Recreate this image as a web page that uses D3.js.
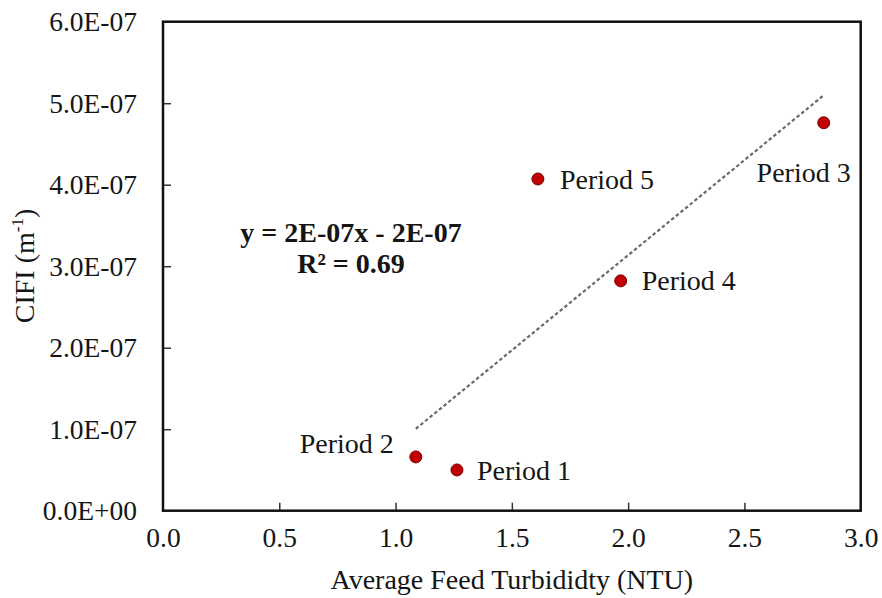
<!DOCTYPE html>
<html><head><meta charset="utf-8">
<script src="https://cdn.jsdelivr.net/npm/d3@7"></script>
<style>
html,body{margin:0;padding:0;background:#fff;}
text{font-family:"Liberation Serif","Times New Roman",serif;fill:#151515;}
</style></head>
<body>
<svg id="chart" width="882" height="598"></svg>
<script>
// ---- data ----
const periods = ["Period 1","Period 2","Period 3","Period 4","Period 5"];
const turbidity = [1.264, 1.087, 2.841, 1.968, 1.612];
const cifi = [5.0e-8, 6.6e-8, 4.76e-7, 2.82e-7, 4.07e-7];
const xTicks = [0, 0.5, 1.0, 1.5, 2.0, 2.5, 3.0];
const yTicks = [0, 1e-7, 2e-7, 3e-7, 4e-7, 5e-7, 6e-7];
const yTickLabels = ["0.0E+00","1.0E-07","2.0E-07","3.0E-07","4.0E-07","5.0E-07","6.0E-07"];
const equationText = "y = 2E-07x - 2E-07";
const r2Text = "R² = 0.69";

// ---- layout ----
const W = 882, H = 598;
const m = {left:163, top:21.7, right:W-860.7, bottom:H-510.7};
const svg = d3.select("#chart");
const x = d3.scaleLinear().domain([0,3]).range([m.left, W-m.right]);
const y = d3.scaleLinear().domain([0,6e-7]).range([H-m.bottom, m.top]);

// label placement (dx, dy, anchor)
const labelPos = {
  "Period 1": [20, 10, "start"],
  "Period 2": [-22, -4, "end"],
  "Period 3": [27, 59, "end"],
  "Period 4": [21, 9, "start"],
  "Period 5": [22, 10, "start"]
};

// axes (ticks inside)
const xAxis = d3.axisBottom(x).tickValues(xTicks).tickSizeInner(-8).tickSizeOuter(0)
  .tickFormat(d3.format(".1f")).tickPadding(17);
const yAxis = d3.axisLeft(y).tickValues(yTicks).tickSizeInner(-8).tickSizeOuter(0)
  .tickFormat((d,i)=>yTickLabels[i]).tickPadding(26);

const gx = svg.append("g").attr("transform",`translate(0,${H-m.bottom})`).call(xAxis);
const gy = svg.append("g").attr("transform",`translate(${m.left},0)`).call(yAxis);
[gx,gy].forEach(g=>{
  g.select(".domain").remove();
  g.selectAll(".tick line").attr("stroke","#333").attr("stroke-width",1.5);
  g.selectAll(".tick text").attr("font-size",27.5).attr("fill","#151515")
   .style("font-family","'Liberation Serif','Times New Roman',serif");
});
gx.selectAll(".tick text").attr("dy","0.71em");
gy.selectAll(".tick text").attr("dy","0.32em");
gx.selectAll(".tick").filter(d=>d===0||d===3).select("line").remove();
gy.selectAll(".tick").filter(d=>d===0||d===6e-7).select("line").remove();

// frame
svg.append("rect")
  .attr("x",x(0)).attr("y",y(6e-7))
  .attr("width",x(3)-x(0)).attr("height",y(0)-y(6e-7))
  .attr("fill","none").attr("stroke","#111").attr("stroke-width",2.5);

// trendline (least squares)
const n = turbidity.length;
const mx = d3.mean(turbidity), my = d3.mean(cifi);
let sxy=0,sxx=0;
for(let i=0;i<n;i++){sxy+=(turbidity[i]-mx)*(cifi[i]-my);sxx+=(turbidity[i]-mx)**2;}
const slope = sxy/sxx, intercept = my - slope*mx;
const [x0,x1] = d3.extent(turbidity);
svg.append("line")
  .attr("x1",x(x0)).attr("y1",y(slope*x0+intercept))
  .attr("x2",x(x1)).attr("y2",y(slope*x1+intercept))
  .attr("stroke","#6a6a6a").attr("stroke-width",2.2).attr("stroke-dasharray","3.5,2.5");

// points
const pts = periods.map((p,i)=>({p, x:turbidity[i], y:cifi[i]}));
svg.append("g").selectAll("circle").data(pts).join("circle")
  .attr("cx",d=>x(d.x)).attr("cy",d=>y(d.y)).attr("r",6)
  .attr("fill","#c00000").attr("stroke","#7a0000").attr("stroke-width",1);

svg.append("g").selectAll("text").data(pts).join("text")
  .attr("x",d=>x(d.x)+labelPos[d.p][0]).attr("y",d=>y(d.y)+labelPos[d.p][1])
  .attr("text-anchor",d=>labelPos[d.p][2]).attr("font-size",28)
  .text(d=>d.p);

// equation
svg.append("text").attr("x",351).attr("y",242).attr("text-anchor","middle")
  .attr("font-size",28).attr("font-weight","bold").text(equationText);
svg.append("text").attr("x",351).attr("y",273).attr("text-anchor","middle")
  .attr("font-size",28).attr("font-weight","bold").text(r2Text);

// axis titles
svg.append("text").attr("x",(x(0)+x(3))/2).attr("y",589).attr("text-anchor","middle")
  .attr("font-size",28).text("Average Feed Turbididty (NTU)");
const yt = svg.append("text").attr("transform","translate(34,266) rotate(-90)")
  .attr("text-anchor","middle").attr("font-size",28);
yt.append("tspan").text("CIFI (m");
yt.append("tspan").attr("font-size",17).attr("dy",-11).text("-1");
yt.append("tspan").attr("dy",11).text(")");
</script>
</body></html>
